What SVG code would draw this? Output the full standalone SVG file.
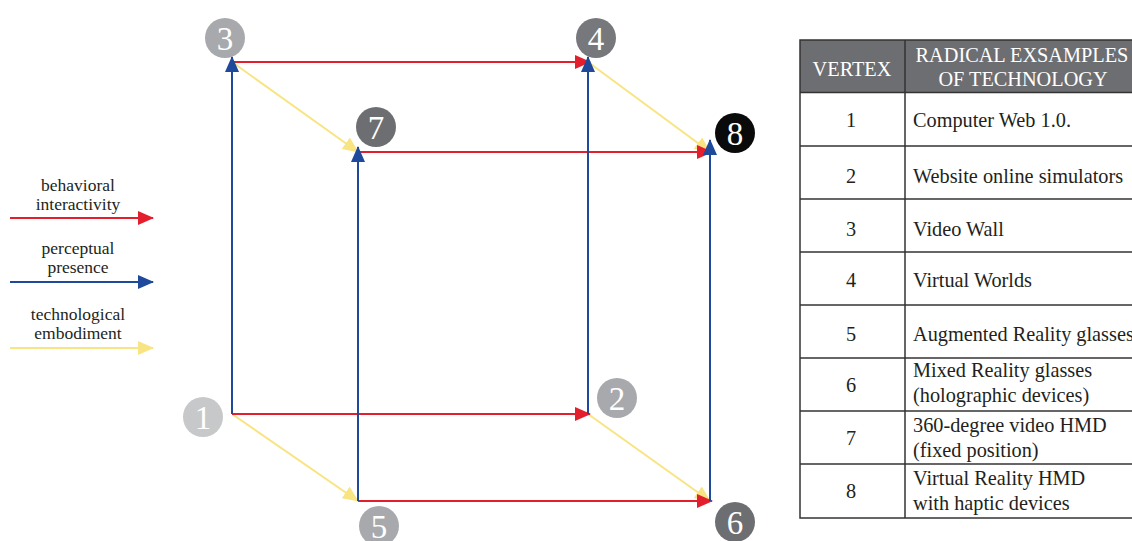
<svg xmlns="http://www.w3.org/2000/svg" width="1132" height="541" viewBox="0 0 1132 541">
<defs>
<marker id="aR" markerWidth="16" markerHeight="14" refX="15" refY="7" orient="auto" markerUnits="userSpaceOnUse"><path d="M0,0 L16,7 L0,14 Z" fill="#e41f2d"/></marker>
<marker id="aB" markerWidth="16" markerHeight="14" refX="15" refY="7" orient="auto" markerUnits="userSpaceOnUse"><path d="M0,0 L16,7 L0,14 Z" fill="#1f4a9b"/></marker>
<marker id="aY" markerWidth="16" markerHeight="14" refX="15" refY="7" orient="auto" markerUnits="userSpaceOnUse"><path d="M0,0 L16,7 L0,14 Z" fill="#f9e483"/></marker>
</defs>
<style>
.r{stroke:#e41f2d;stroke-width:2;fill:none;marker-end:url(#aR)}
.b{stroke:#1f4a9b;stroke-width:2;fill:none;marker-end:url(#aB)}
.y{stroke:#f9e483;stroke-width:2;fill:none;marker-end:url(#aY)}
.vt{font-family:"Liberation Serif",serif;font-size:33px;fill:#fff;text-anchor:middle}
.lg{font-family:"Liberation Serif",serif;font-size:17.5px;fill:#231f20;text-anchor:middle}
.th{font-family:"Liberation Serif",serif;font-size:20.3px;fill:#fff;text-anchor:middle}
.tn{font-family:"Liberation Serif",serif;font-size:20.3px;fill:#231f20;text-anchor:middle}
.tt{font-family:"Liberation Serif",serif;font-size:20.3px;fill:#231f20}
.grid{stroke:#333;stroke-width:1.5;fill:none}
</style>
<rect width="1132" height="541" fill="#fff"/>
<g id="connectors">
<line class="y" x1="232" y1="62" x2="358" y2="152"/>
<line class="y" x1="588" y1="62" x2="710" y2="152"/>
<line class="y" x1="232" y1="414" x2="358" y2="501"/>
<line class="y" x1="588" y1="414" x2="710" y2="501"/>
<line class="r" x1="232" y1="62" x2="590" y2="62"/>
<line class="r" x1="358" y1="152" x2="712" y2="152"/>
<line class="r" x1="232" y1="414" x2="590" y2="414"/>
<line class="r" x1="358" y1="501" x2="712" y2="501"/>
<line class="b" x1="232" y1="414" x2="232" y2="57"/>
<line class="b" x1="588" y1="414" x2="588" y2="57"/>
<line class="b" x1="358" y1="501" x2="358" y2="147"/>
<line class="b" x1="710" y1="501" x2="710" y2="140"/>
</g>
<g id="v1"><circle cx="203" cy="417" r="20" fill="#c7c8ca"/><text class="vt" x="203" y="429">1</text></g>
<g id="v2"><circle cx="617" cy="398" r="20" fill="#a7a9ac"/><text class="vt" x="617" y="410">2</text></g>
<g id="v3"><circle cx="225" cy="38" r="20" fill="#a7a9ac"/><text class="vt" x="225" y="50">3</text></g>
<g id="v4"><circle cx="596" cy="38" r="20" fill="#77787b"/><text class="vt" x="596" y="50">4</text></g>
<g id="v5"><circle cx="379" cy="526" r="20" fill="#a7a9ac"/><text class="vt" x="379" y="538">5</text></g>
<g id="v6"><circle cx="735" cy="522" r="20" fill="#6d6e71"/><text class="vt" x="735" y="534">6</text></g>
<g id="v7"><circle cx="376" cy="127" r="20" fill="#6d6e71"/><text class="vt" x="376" y="139">7</text></g>
<g id="v8"><circle cx="735" cy="133" r="20" fill="#0a0a0a"/><text class="vt" x="735" y="145">8</text></g>
<g id="legend">
<text class="lg" x="78" y="191">behavioral</text>
<text class="lg" x="78" y="210">interactivity</text>
<line class="r" x1="10" y1="218" x2="153" y2="218"/>
<text class="lg" x="78" y="254">perceptual</text>
<text class="lg" x="78" y="273">presence</text>
<line class="b" x1="10" y1="282" x2="153" y2="282"/>
<text class="lg" x="78" y="320">technological</text>
<text class="lg" x="78" y="339">embodiment</text>
<line class="y" x1="10" y1="348" x2="153" y2="348"/>
</g>
<g id="table">
<rect x="800" y="40" width="336" height="52.5" fill="#6d6e71"/>
<rect class="grid" x="800" y="40" width="336" height="478"/>
<line class="grid" x1="905" y1="40" x2="905" y2="518"/>
<line class="grid" x1="800" y1="92.5" x2="1136" y2="92.5"/>
<line class="grid" x1="800" y1="146" x2="1136" y2="146"/>
<line class="grid" x1="800" y1="199" x2="1136" y2="199"/>
<line class="grid" x1="800" y1="252" x2="1136" y2="252"/>
<line class="grid" x1="800" y1="305" x2="1136" y2="305"/>
<line class="grid" x1="800" y1="358" x2="1136" y2="358"/>
<line class="grid" x1="800" y1="411" x2="1136" y2="411"/>
<line class="grid" x1="800" y1="464" x2="1136" y2="464"/>
<text class="th" x="852" y="76">VERTEX</text>
<text class="th" x="1022" y="62">RADICAL EXSAMPLES</text>
<text class="th" x="1023" y="86">OF TECHNOLOGY</text>
<text class="tn" x="851" y="127">1</text><text class="tt" x="913" y="127">Computer Web 1.0.</text>
<text class="tn" x="851" y="183">2</text><text class="tt" x="913" y="183">Website online simulators</text>
<text class="tn" x="851" y="236">3</text><text class="tt" x="913" y="236">Video Wall</text>
<text class="tn" x="851" y="287">4</text><text class="tt" x="913" y="287">Virtual Worlds</text>
<text class="tn" x="851" y="341">5</text><text class="tt" x="913" y="341">Augmented Reality glasses</text>
<text class="tn" x="851" y="392">6</text><text class="tt" x="913" y="377">Mixed Reality glasses</text><text class="tt" x="913" y="402">(holographic devices)</text>
<text class="tn" x="851" y="445">7</text><text class="tt" x="913" y="432">360-degree video HMD</text><text class="tt" x="913" y="457">(fixed position)</text>
<text class="tn" x="851" y="498">8</text><text class="tt" x="913" y="485">Virtual Reality HMD</text><text class="tt" x="913" y="510">with haptic devices</text>
</g>
</svg>
